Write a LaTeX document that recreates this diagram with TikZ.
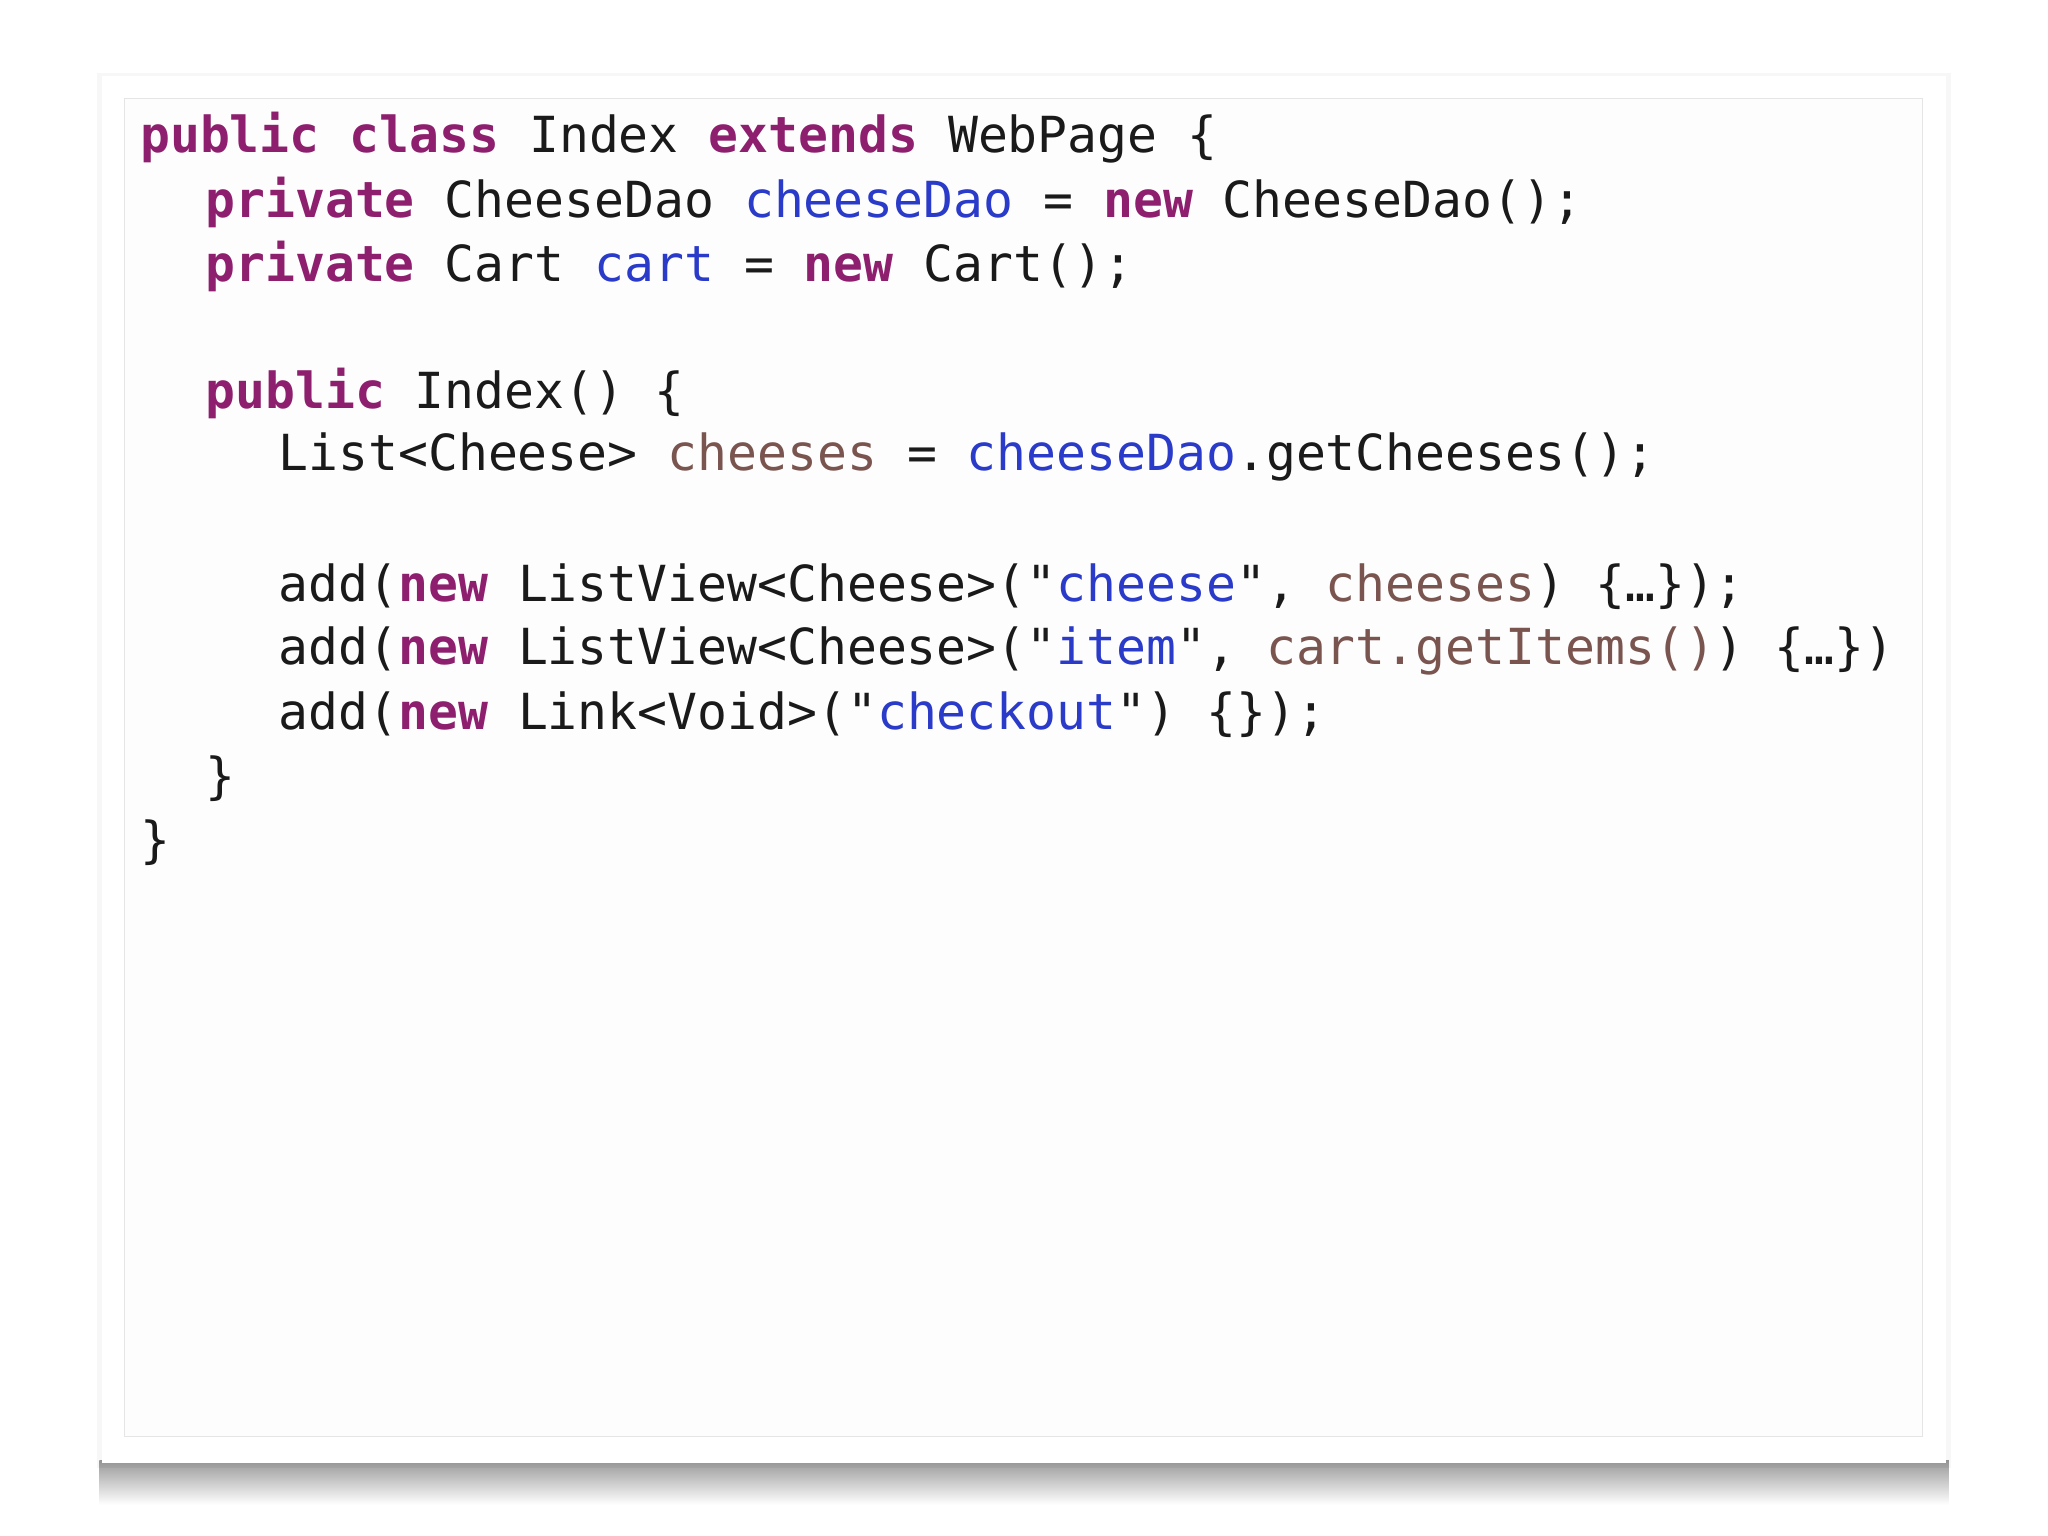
\documentclass[tikz,border=0pt]{standalone}
\usepackage{fontspec}
\setmonofont{DejaVu Sans Mono}
\definecolor{kw}{HTML}{8E1F6E}
\definecolor{fld}{HTML}{2B3BC9}
\definecolor{loc}{HTML}{7A5550}
\definecolor{txt}{HTML}{1A1A1A}
\tikzset{codeline/.style={anchor=west,inner sep=0pt,font=\ttfamily\fontsize{24.85}{28}\selectfont,text=txt}}
\newcommand{\kwd}[1]{\textcolor{kw}{\textbf{#1}}}
\newcommand{\fl}[1]{\textcolor{fld}{#1}}
\newcommand{\lc}[1]{\textcolor{loc}{#1}}
\begin{document}
\begin{tikzpicture}[x=0.653pt,y=-0.653pt]
\useasboundingbox (0,0) rectangle (1568,1176);
\fill[white] (0,0) rectangle (1568,1176);
% shadow
\shade[top color=black!40,bottom color=white] (76,1118) rectangle (1492,1152);
\fill[black,opacity=0.03] (74,56) rectangle (1494,1124);
\fill[white] (78,58) rectangle (1490,1120);
\draw[black!10,fill=black!0.6] (95,75) rectangle (1472,1100);
\node[codeline] (l1) at (107,105) {\kwd{public class} Index \kwd{extends} WebPage \{};
\node[codeline] (l2) at (157,155) {\kwd{private} CheeseDao \fl{cheeseDao} = \kwd{new} CheeseDao();};
\node[codeline] (l3) at (157,204) {\kwd{private} Cart \fl{cart} = \kwd{new} Cart();};
\node[codeline] (l4) at (157,301) {\kwd{public} Index() \{};
\node[codeline] (l5) at (213,350) {List<Cheese> \lc{cheeses} = \fl{cheeseDao}.getCheeses();};
\node[codeline] (l6) at (213,449) {add(\kwd{new} ListView<Cheese>("\fl{cheese}", \lc{cheeses}) \{…\});};
\node[codeline] (l7) at (213,498) {add(\kwd{new} ListView<Cheese>("\fl{item}", \lc{cart.getItems()}) \{…\})};
\node[codeline] (l8) at (213,547) {add(\kwd{new} Link<Void>("\fl{checkout}") \{\});};
\node[codeline] (l9) at (157,596) {\}};
\node[codeline] (l10) at (107,645) {\}};
\end{tikzpicture}
\end{document}
